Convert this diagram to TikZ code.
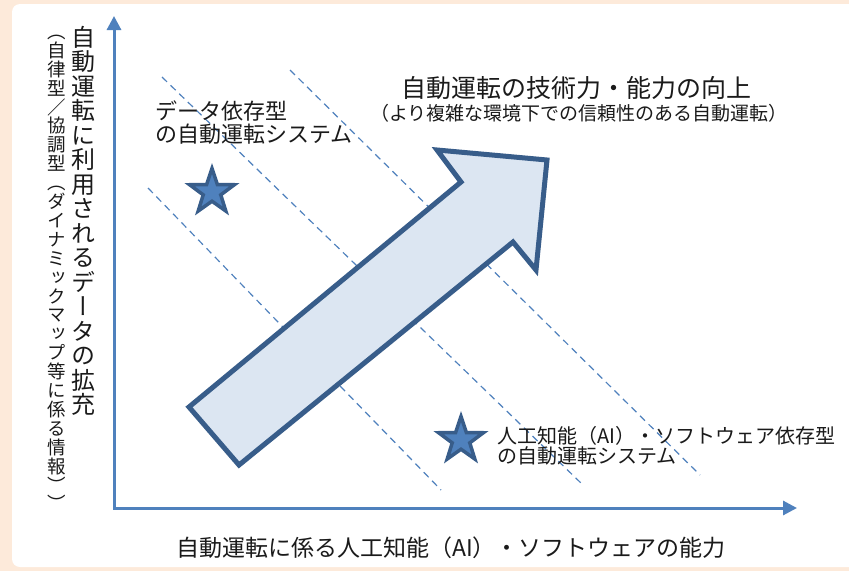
\documentclass[tikz,border=0pt]{standalone}
\usepackage{fontspec}
\newfontfamily\jp{Noto Sans CJK JP}
\newfontfamily\vjp[RawFeature=+vert]{Noto Sans CJK JP}
\usetikzlibrary{arrows.meta,shapes.geometric}
\definecolor{peach}{HTML}{FDEADA}
\definecolor{axisblue}{HTML}{4F81BD}
\definecolor{darkblue}{HTML}{385D8A}
\definecolor{lightfill}{HTML}{DCE6F2}
\definecolor{txt}{HTML}{1A1A1A}
\begin{document}
\begin{tikzpicture}[x=1pt,y=-1pt,
  axis/.style={draw=axisblue,line width=3pt},
  guide/.style={draw=axisblue,line width=1.2pt,dash pattern=on 7pt off 5pt},
  starmark/.style={star,star points=5,star point ratio=2.55,minimum size=47pt,inner sep=0pt,fill=axisblue,draw=darkblue,line width=3.5pt},
  lbl/.style={inner sep=0pt,text=txt}]
\useasboundingbox (0,0) rectangle (849,571);
\clip (0,0) rectangle (849,571);
\fill[peach] (0,0) rectangle (849,571);
\fill[white,rounded corners=8pt] (12,4) rectangle (880,567);

% guide lines
\coordinate (a1) at (148,188); \coordinate (a2) at (441,490);
\coordinate (b1) at (162,77);  \coordinate (b2) at (583,485);
\coordinate (c1) at (290,70);  \coordinate (c2) at (700,475);
\draw[guide] (a1) -- (a2);
\draw[guide] (b1) -- (b2);
\draw[guide] (c1) -- (c2);

% axes
\coordinate (O) at (114,508);
\coordinate (ytop) at (114,16);
\coordinate (xend) at (797,508);
\draw[axis,{Triangle[length=14pt,width=14pt]}-{Triangle[length=14pt,width=14pt]}] (ytop) -- (O) -- (xend);

% big arrow
\draw[line width=5pt,draw=darkblue,fill=lightfill,line join=miter]
  (189,407) -- (461,182) -- (437,150) -- (547,160) -- (536,270) -- (513,242) -- (239,465) -- cycle;

% stars
\node[starmark] (star1) at (212,192) {};
\node[starmark] (star2) at (461,440) {};

% texts
\node[lbl,font=\jp\fontsize{25}{30}\selectfont] (title) at (576,88) {自動運転の技術力・能力の向上};
\node[lbl,font=\jp\fontsize{19}{23}\selectfont] (subtitle) at (579,113) {（より複雑な環境下での信頼性のある自動運転）};
\node[lbl,font=\jp\fontsize{22}{23.5}\selectfont,align=left,anchor=west] (datatype) at (155,122.5) {データ依存型\\の自動運転システム};
\node[lbl,font=\jp\fontsize{20}{20.5}\selectfont,align=left,anchor=west] (aitype) at (497,446) {人工知能（AI）・ソフトウェア依存型\\の自動運転システム};
\node[lbl,font=\jp\fontsize{23}{23}\selectfont] (xlabel) at (451,548) {自動運転に係る人工知能（AI）・ソフトウェアの能力};

\node[lbl,font=\vjp\fontsize{24}{24.5}\selectfont,align=center] (ylabel) at (83,221)
  {自\\動\\運\\転\\に\\利\\用\\さ\\れ\\る\\デ\\ー\\タ\\の\\拡\\充};
\node[lbl,font=\vjp\fontsize{18.5}{18.9}\selectfont,align=center] (ysub) at (57,273)
  {（\\自\\律\\型\\{\jp ／}\\協\\調\\型\\（\\ダ\\イ\\ナ\\ミ\\ッ\\ク\\マ\\ッ\\プ\\等\\に\\係\\る\\情\\報\\）\\）};
\end{tikzpicture}
\end{document}
